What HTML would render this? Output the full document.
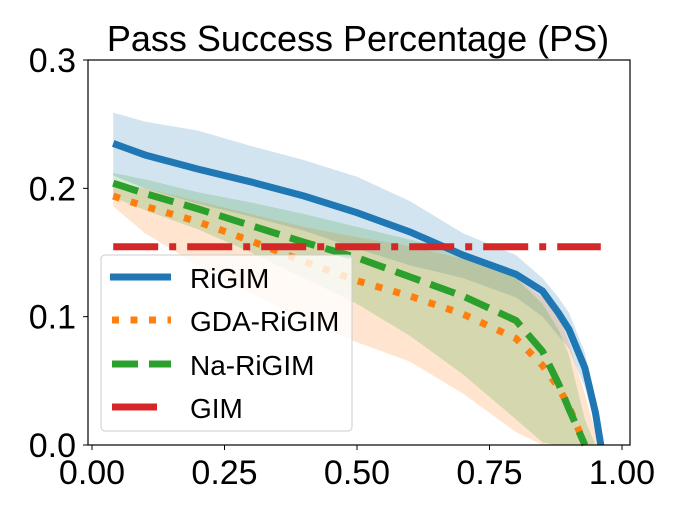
<!DOCTYPE html>
<html><head><meta charset="utf-8"><style>
html,body{margin:0;padding:0;background:#fff;}
svg text{font-family:"Liberation Sans","DejaVu Sans",sans-serif;}
</style></head><body>
<svg id="chart" width="700" height="500" xmlns="http://www.w3.org/2000/svg">
<text x="358" y="51" font-size="36" text-anchor="middle">Pass Success Percentage (PS)</text>
<g id="bands"></g><g id="lines"></g>
<rect x="88" y="60" width="542" height="385" fill="none" stroke="#000" stroke-width="1.2"/>
<g id="ticks"></g>
<g>
<rect x="101" y="255" width="251" height="176" rx="4" fill="#fff" fill-opacity="0.8" stroke="#ccc"/>
<g><line x1="110" y1="277" x2="171" y2="277" stroke="#1f77b4" stroke-width="7"/><text x="190" y="288" font-size="28">RiGIM</text></g>
<g><line x1="112" y1="320" x2="171" y2="320" stroke="#ff7f0e" stroke-width="7" stroke-dasharray="7 11.5"/><text x="190" y="331" font-size="28">GDA-RiGIM</text></g>
<g><line x1="112" y1="364" x2="171" y2="364" stroke="#2ca02c" stroke-width="7" stroke-dasharray="26 11"/><text x="190" y="375" font-size="28">Na-RiGIM</text></g>
<g><line x1="112" y1="407" x2="157" y2="407" stroke="#d62728" stroke-width="7"/><text x="190" y="418" font-size="28">GIM</text></g>
</g>
</svg>
<script>
const xs=[0.04,0.1,0.2,0.3,0.4,0.5,0.6,0.7,0.8,0.85,0.88,0.9,0.93,0.95,0.96];
const rigimMean=[0.235,0.226,0.215,0.205,0.194,0.181,0.166,0.148,0.133,0.12,0.103,0.09,0.06,0.025,0];
const rigimUpper=[0.259,0.252,0.245,0.233,0.222,0.209,0.19,0.165,0.148,0.13,0.115,0.103,0.072,0.032,0.003];
const rigimLower=[0.21,0.2,0.188,0.178,0.167,0.153,0.14,0.13,0.115,0.1,0.085,0.075,0.045,0.015,0];
const gdaMean=[0.194,0.186,0.174,0.159,0.143,0.128,0.116,0.102,0.083,0.062,0.045,0.03,0,null,null];
const gdaUpper=[0.205,0.2,0.19,0.18,0.17,0.162,0.155,0.145,0.13,0.115,0.1,0.08,0.04,0.01,0];
const gdaLower=[0.186,0.165,0.14,0.118,0.098,0.08,0.065,0.04,0.01,0,null,null,null,null,null];
const naMean=[0.204,0.196,0.184,0.171,0.158,0.146,0.131,0.116,0.097,0.073,0.048,0.028,0,null,null];
const naUpper=[0.212,0.207,0.197,0.189,0.18,0.17,0.16,0.15,0.13,0.11,0.09,0.07,0.02,0,null];
const naLower=[0.193,0.183,0.168,0.15,0.13,0.11,0.085,0.055,0.02,0.002,0,null,null,null,null];
const gimValue=[0.1545];
const gimRange=[0.04,0.96];
const xTicks=[0,0.25,0.5,0.75,1.0];
const xTickLabels=["0.00","0.25","0.50","0.75","1.00"];
const yTicks=[0,0.1,0.2,0.3];
const yTickLabels=["0.0","0.1","0.2","0.3"];
const X=v=>92+v*530, Y=v=>445-v*1283.3;
const NS="http://www.w3.org/2000/svg";
function pts(arr){const p=[];arr.forEach((v,i)=>{if(v!==null)p.push([X(xs[i]),Y(v)]);});return p;}
function band(u,l,color,name){
 const a=pts(u),b=pts(l).reverse();
 const el=document.createElementNS(NS,'polygon');
 el.setAttribute('points',a.concat(b).map(p=>p.join(',')).join(' '));
 el.setAttribute('fill',color);el.setAttribute('fill-opacity','0.2');
 
 
 document.getElementById('bands').appendChild(el);
}
band(rigimUpper,rigimLower,'#1f77b4','rigim-band');
band(gdaUpper,gdaLower,'#ff7f0e','gda-rigim-band');
band(naUpper,naLower,'#2ca02c','na-rigim-band');
function line(arr,color,dash,name){
 const el=document.createElementNS(NS,'polyline');
 el.setAttribute('points',pts(arr).map(p=>p.join(',')).join(' '));
 el.setAttribute('fill','none');el.setAttribute('stroke',color);el.setAttribute('stroke-width','7');
 if(dash)el.setAttribute('stroke-dasharray',dash);
 
 
 document.getElementById('lines').appendChild(el);
}
line(rigimMean,'#1f77b4',null,'rigim-line');
line(gdaMean,'#ff7f0e','7 11.5','gda-rigim-line');
line(naMean,'#2ca02c','26 11','na-rigim-line');
const gl=document.createElementNS(NS,'line');
gl.setAttribute('x1',X(gimRange[0]));gl.setAttribute('x2',X(gimRange[1]));
gl.setAttribute('y1',Y(gimValue[0]));gl.setAttribute('y2',Y(gimValue[0]));
gl.setAttribute('stroke','#d62728');gl.setAttribute('stroke-width','7');gl.setAttribute('stroke-dasharray','45 11 7 11');


document.getElementById('lines').appendChild(gl);
const tg=document.getElementById('ticks');
xTicks.forEach((v,i)=>{
 const t=document.createElementNS(NS,'line');
 t.setAttribute('x1',X(v));t.setAttribute('x2',X(v));t.setAttribute('y1',445);t.setAttribute('y2',450);t.setAttribute('stroke','#000');
 
 
 tg.appendChild(t);
 const s=document.createElementNS(NS,'text');
 s.setAttribute('x',X(v));s.setAttribute('y',484);s.setAttribute('font-size','34');s.setAttribute('text-anchor','middle');
 s.textContent=xTickLabels[i];
 
 
 tg.appendChild(s);
});
yTicks.forEach((v,i)=>{
 const t=document.createElementNS(NS,'line');
 t.setAttribute('x1',83);t.setAttribute('x2',88);t.setAttribute('y1',Y(v));t.setAttribute('y2',Y(v));t.setAttribute('stroke','#000');
 
 
 tg.appendChild(t);
 const s=document.createElementNS(NS,'text');
 s.setAttribute('x',76);s.setAttribute('y',Y(v)+12);s.setAttribute('font-size','34');s.setAttribute('text-anchor','end');
 s.textContent=yTickLabels[i];
 
 
 tg.appendChild(s);
});
</script>
</body></html>
